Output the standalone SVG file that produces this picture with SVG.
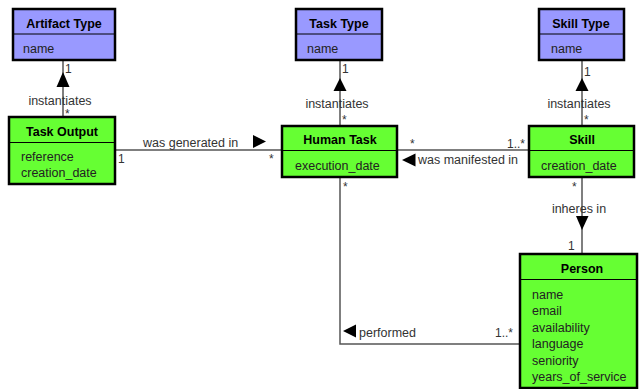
<svg xmlns="http://www.w3.org/2000/svg" width="639" height="389" viewBox="0 0 639 389">
  <style>
    .box { stroke: #000; stroke-width: 2.5; }
    .type { fill: #9999ff; }
    .cls { fill: #66ff33; }
    .div { stroke: #000; stroke-width: 1; }
    .title { font-family: "Liberation Sans", Arial, sans-serif; font-size: 12.5px; font-weight: bold; fill: #000; text-anchor: middle; }
    .attr { font-family: "Liberation Sans", Arial, sans-serif; font-size: 12.5px; fill: #222; }
    .lbl { font-family: "Liberation Sans", Arial, sans-serif; font-size: 12.5px; fill: #333; }
    .mult { font-family: "Liberation Sans", Arial, sans-serif; font-size: 12px; fill: #333; }
    .edge { fill: none; stroke: #555; stroke-width: 1.5; }
    .dir { fill: #000; }
  </style>

  <g id="connectors">
    <!-- Task Output instantiates Artifact Type -->
    <line class="edge" x1="63" y1="60" x2="63" y2="117"/>
    <polygon class="dir" points="63,72 56.5,87 69.5,87"/>
    <text class="lbl" x="60" y="105" text-anchor="middle">instantiates</text>
    <text class="mult" x="65" y="73">1</text>
    <text class="mult" x="65" y="118">*</text>

    <!-- Human Task instantiates Task Type -->
    <line class="edge" x1="340" y1="60" x2="340" y2="126"/>
    <polygon class="dir" points="340,78 333.5,91 346.5,91"/>
    <text class="lbl" x="337" y="108" text-anchor="middle">instantiates</text>
    <text class="mult" x="342" y="73">1</text>
    <text class="mult" x="342" y="124">*</text>

    <!-- Skill instantiates Skill Type -->
    <line class="edge" x1="582" y1="60" x2="582" y2="126"/>
    <polygon class="dir" points="582,78 575.5,91 588.5,91"/>
    <text class="lbl" x="579" y="108" text-anchor="middle">instantiates</text>
    <text class="mult" x="584" y="76">1</text>
    <text class="mult" x="584" y="124">*</text>

    <!-- Task Output was generated in Human Task -->
    <line class="edge" x1="115" y1="150" x2="282" y2="150"/>
    <text class="lbl" x="143" y="147">was generated in</text>
    <polygon class="dir" points="253,135 266,141.5 253,148"/>
    <text class="mult" x="118" y="163">1</text>
    <text class="mult" x="269" y="163">*</text>

    <!-- Skill was manifested in Human Task -->
    <line class="edge" x1="397" y1="150" x2="529" y2="150"/>
    <text class="mult" x="410" y="148">*</text>
    <text class="mult" x="525" y="148" text-anchor="end">1..*</text>
    <polygon class="dir" points="402,160 415.5,153.5 415.5,166.5"/>
    <text class="lbl" x="418" y="164">was manifested in</text>

    <!-- Person performed Human Task -->
    <polyline class="edge" points="340,177 340,344 520,344"/>
    <text class="mult" x="343" y="191">*</text>
    <polygon class="dir" points="343,331 356,324.5 356,337.5"/>
    <text class="lbl" x="359" y="337">performed</text>
    <text class="mult" x="513" y="337" text-anchor="end">1..*</text>

    <!-- Skill inheres in Person -->
    <line class="edge" x1="582" y1="177" x2="582" y2="254"/>
    <text class="mult" x="572" y="191">*</text>
    <text class="lbl" x="579" y="213" text-anchor="middle">inheres in</text>
    <polygon class="dir" points="576,216 588.5,216 582,230"/>
    <text class="mult" x="568" y="250">1</text>
  </g>

  <g id="artifact-type">
    <rect class="box type" x="13" y="9" width="102" height="51"/>
    <line class="div" x1="13" y1="34" x2="115" y2="34"/>
    <text class="title" x="64" y="28">Artifact Type</text>
    <text class="attr" x="23" y="53">name</text>
  </g>

  <g id="task-type">
    <rect class="box type" x="296" y="9" width="86" height="51"/>
    <line class="div" x1="296" y1="34" x2="382" y2="34"/>
    <text class="title" x="339" y="28">Task Type</text>
    <text class="attr" x="307" y="53">name</text>
  </g>

  <g id="skill-type">
    <rect class="box type" x="539" y="9" width="85" height="51"/>
    <line class="div" x1="539" y1="34" x2="624" y2="34"/>
    <text class="title" x="581" y="28">Skill Type</text>
    <text class="attr" x="551" y="53">name</text>
  </g>

  <g id="task-output">
    <rect class="box cls" x="9" y="117" width="106" height="67"/>
    <line class="div" x1="9" y1="142.5" x2="115" y2="142.5"/>
    <text class="title" x="62" y="136">Task Output</text>
    <text class="attr" x="21" y="161">reference</text>
    <text class="attr" x="21" y="177">creation_date</text>
  </g>

  <g id="human-task">
    <rect class="box cls" x="282" y="126" width="115" height="51"/>
    <line class="div" x1="282" y1="150.5" x2="397" y2="150.5"/>
    <text class="title" x="340" y="144">Human Task</text>
    <text class="attr" x="295" y="170">execution_date</text>
  </g>

  <g id="skill">
    <rect class="box cls" x="529" y="126" width="105" height="51"/>
    <line class="div" x1="529" y1="150.5" x2="634" y2="150.5"/>
    <text class="title" x="582" y="144">Skill</text>
    <text class="attr" x="541" y="170">creation_date</text>
  </g>

  <g id="person">
    <rect class="box cls" x="520" y="254" width="117" height="134"/>
    <line class="div" x1="520" y1="279.5" x2="637" y2="279.5"/>
    <text class="title" x="582" y="273">Person</text>
    <text class="attr" x="532" y="299">name</text>
    <text class="attr" x="532" y="315">email</text>
    <text class="attr" x="532" y="332">availability</text>
    <text class="attr" x="532" y="348">language</text>
    <text class="attr" x="532" y="365">seniority</text>
    <text class="attr" x="532" y="381">years_of_service</text>
  </g>
</svg>
